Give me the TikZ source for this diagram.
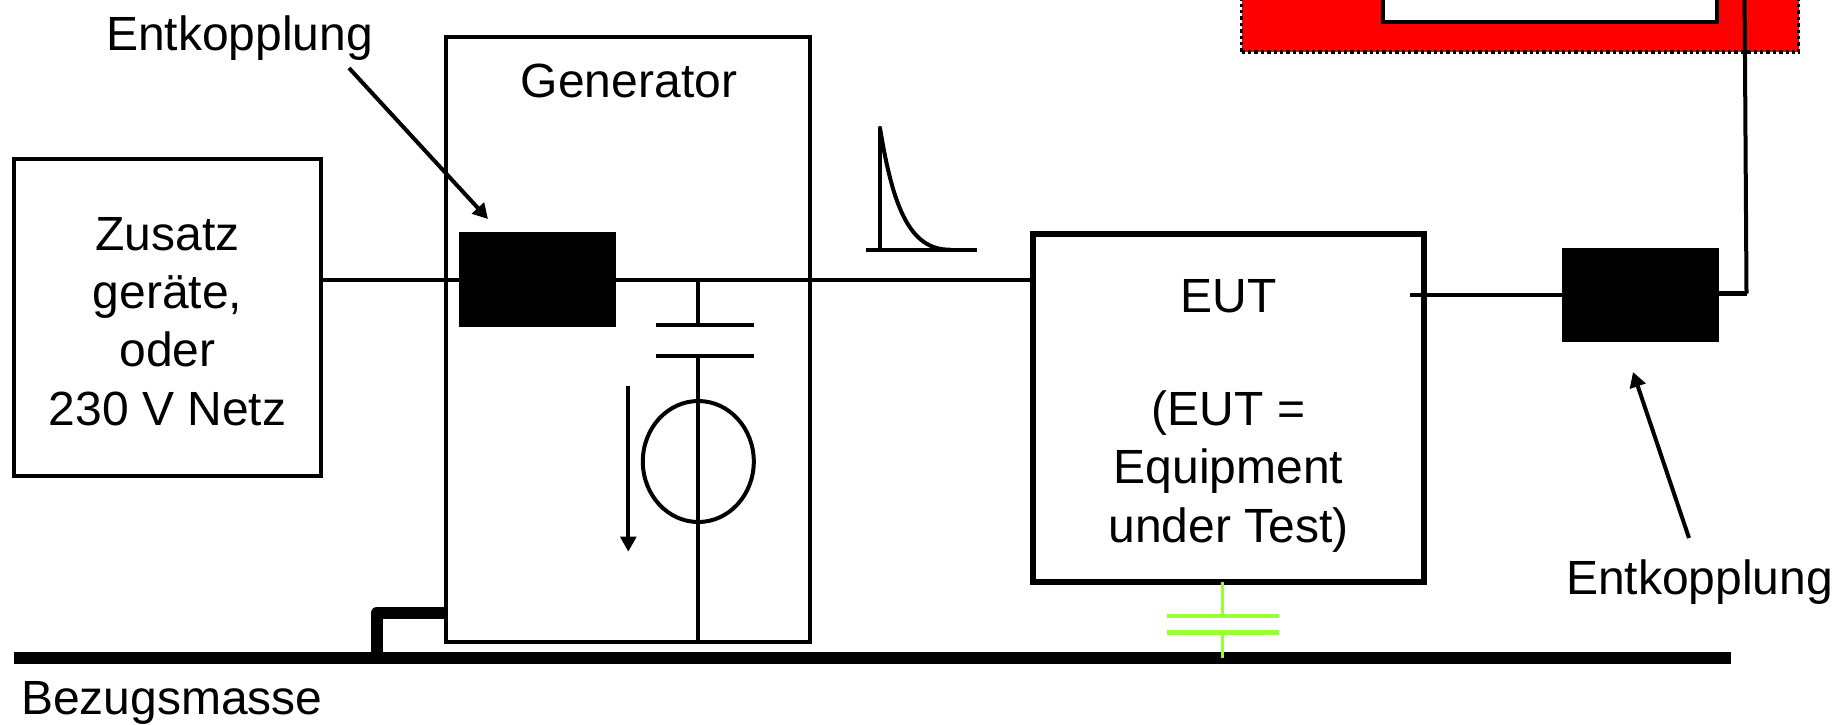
\documentclass[tikz,border=0pt]{standalone}
\usepackage{fontspec}
\setmainfont{Liberation Sans}
\usetikzlibrary{arrows.meta,shapes.geometric}
\definecolor{capgreen}{HTML}{99FF33}
\tikzset{
  x=1pt,y=-1pt,
  wire/.style={line width=4pt,black},
  boxthin/.style={draw=black,line width=4pt,inner sep=0pt,outer sep=0pt,fill=white},
  boxthick/.style={draw=black,line width=6pt,inner sep=0pt,outer sep=0pt,fill=white},
  blackblock/.style={fill=black,inner sep=0pt,outer sep=0pt,minimum width=157pt,minimum height=94.5pt},
  label/.style={inner sep=0pt,outer sep=0pt,align=center,font=\fontsize{48}{58.3}\selectfont},
  pointer/.style={line width=4pt,-{Triangle[length=15pt,width=16pt]}},
  greenline/.style={capgreen,line width=3pt},
  greenplate/.style={capgreen,line width=4.5pt}
}
\begin{document}
\begin{tikzpicture}
\useasboundingbox (0,0) rectangle (1833,724);
\clip (0,0) rectangle (1833,724);
% red screened room (cut off by the top edge)
\node[fill=red,draw=black,line width=3.6pt,dash pattern=on 3.4pt off 3pt,inner sep=0pt,outer sep=0pt,minimum width=557pt,minimum height=152pt] (room) at (1520,-24) {};
\node[boxthin,minimum width=334pt,minimum height=142pt] (inner) at (1549.5,-49) {};
% boxes
\node[boxthin,minimum width=307pt,minimum height=317pt] (zus) at (167.5,317.5) {};
\node[boxthin,minimum width=363.5pt,minimum height=605.5pt] (gen) at (628.2,339.7) {};
\node[boxthick,minimum width=391pt,minimum height=348pt] (eut) at (1228.5,408) {};
\node[blackblock] (blk) at (537.5,279.7) {};
\node[blackblock] (blkb) at (1640.5,294.8) {};
% ground bar
\coordinate (gl) at (14,658.2);
\coordinate (gr) at (1731,658.2);
\draw[line width=12pt] (gl) -- (gr);
\coordinate (stubg) at (377,658);
\coordinate (stubb) at (377,612.7);
\draw[line width=12pt,line join=round] (stubg) -- (stubb) -- (stubb -| gen.west);
% main wires
\draw[wire] (zus.east |- blk.west) -- (blk.west);
\draw[wire] (blk.east) -- (blk.east -| eut.west);
\coordinate (eutin) at (1410,294.8);
\draw[wire] (eutin) -- (blkb.west);
\coordinate (corner) at (1746.5,293.5);
\coordinate (up) at (1744.6,0);
\draw[line width=5pt] (blkb.east |- corner) -- (corner);
\draw[wire] (corner) -- (up);
% generator capacitor and source
\coordinate (ctop) at (698,279.7);
\coordinate (pa) at (698,325.3);
\coordinate (pb) at (698,355.7);
\draw[wire] (ctop) -- (pa);
\draw[wire] (656,325.3) -- (754,325.3);
\draw[wire] (656,355.7) -- (754,355.7);
\node[draw=black,line width=4pt,ellipse,inner sep=0pt,outer sep=0pt,minimum width=111pt,minimum height=121pt] (src) at (698.3,461.5) {};
\draw[wire] (pb) -- (pb |- gen.south);
\coordinate (ua) at (628.3,385.7);
\coordinate (ub) at (628.3,551.7);
\draw[line width=4pt,-{Triangle[length=15pt,width=15.5pt]}] (ua) -- (ub);
% pulse
\coordinate (pt) at (880,128);
\coordinate (pf) at (880,249.7);
\draw[wire,line cap=round] (pt) -- (pf);
\draw[wire] (866,249.7) -- (977,249.7);
\draw[wire,line cap=round] (pt) .. controls (893,208) and (910,250) .. (950,249.7);
% EUT capacitor
\coordinate (ga) at (1222.5,582);
\coordinate (gb) at (1222.5,616);
\coordinate (gc) at (1222.5,632.7);
\coordinate (gd) at (1222.5,657.7);
\draw[greenline] (ga) -- (gb);
\draw[greenline] (gc) -- (gd);
\draw[greenplate] (1167,616) -- (1279,616);
\draw[greenplate] (1167,632.7) -- (1279,632.7);
% labels
\node[label,anchor=base west] (l1) at (106,50) {Entkopplung};
\node[label,anchor=base] (l2) at (629,97) {Generator};
\node[label] (l3) at (167.5,321.5) {Zusatz\\geräte,\\oder\\230 V Netz};
\node[label] (l4) at (1228.5,415.7) {EUT\\[-3.5pt] \\(EUT =\\Equipment\\under Test)};
\node[label,anchor=base west] (l5) at (1566,594) {Entkopplung};
\node[label,anchor=base west] (l6) at (21,714) {Bezugsmasse};
% pointers
\coordinate (p1a) at (349,68);
\coordinate (p1b) at (488,219);
\draw[pointer] (p1a) -- (p1b);
\coordinate (p2a) at (1689,538);
\coordinate (p2b) at (1633,372);
\draw[pointer] (p2a) -- (p2b);
\end{tikzpicture}
\end{document}
